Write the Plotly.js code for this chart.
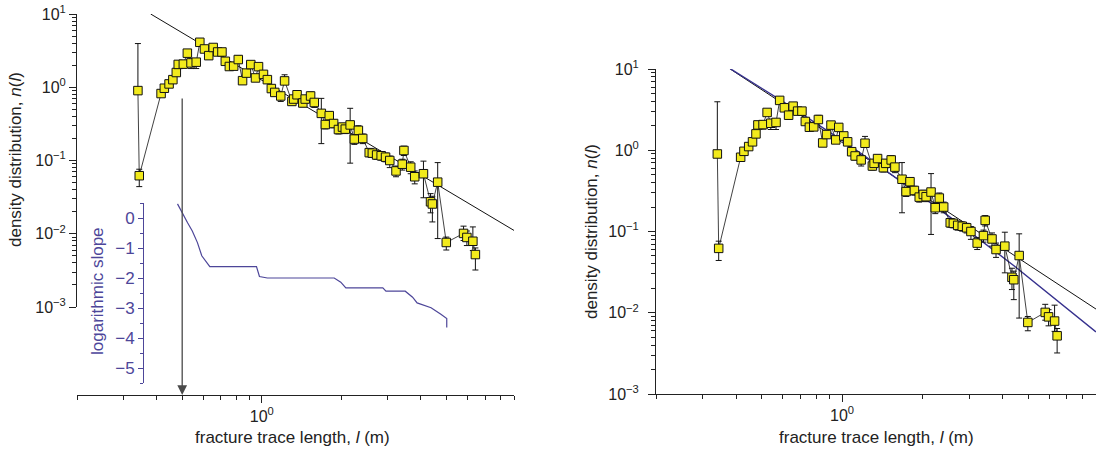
<!DOCTYPE html>
<html>
<head>
<meta charset="utf-8">
<script src="https://cdn.plot.ly/plotly-3.0.1.min.js"></script>
<style>
  html, body { margin: 0; padding: 0; background: #fff; }
  #chart { width: 1096px; height: 450px; }
</style>
</head>
<body>
<div id="chart"></div>
<script>
// Fracture trace-length density distribution n(l) with counting error bars
const traceLength = [0.340, 0.344, 0.416, 0.428, 0.446, 0.461, 0.475, 0.483, 0.505, 0.523,
  0.540, 0.565, 0.583, 0.607, 0.630, 0.655, 0.681, 0.707, 0.728, 0.754,
  0.783, 0.815, 0.846, 0.875, 0.909, 0.947, 0.972, 1.015, 1.05, 1.087,
  1.12, 1.18, 1.22, 1.30, 1.32, 1.36, 1.43, 1.46, 1.53, 1.58,
  1.68, 1.74, 1.80, 1.87, 1.95, 2.02, 2.07, 2.16, 2.24, 2.32,
  2.41, 2.55, 2.62, 2.72, 2.83, 2.94, 3.05, 3.22, 3.40, 3.45,
  3.66, 3.79, 4.09, 4.35, 4.42, 4.63, 4.99, 5.80, 5.97, 6.29, 6.43];
const density = [0.90, 0.062, 0.82, 0.97, 1.11, 1.27, 1.59, 2.05, 2.07, 2.92,
  2.15, 2.20, 4.11, 3.33, 2.70, 3.49, 3.03, 3.03, 2.26, 1.92,
  1.94, 2.39, 1.23, 1.56, 2.04, 1.34, 1.91, 1.50, 1.27, 0.96,
  0.85, 0.76, 1.22, 0.64, 0.69, 0.79, 0.61, 0.69, 0.76, 0.62,
  0.44, 0.31, 0.41, 0.32, 0.265, 0.286, 0.268, 0.306, 0.196, 0.258,
  0.20, 0.128, 0.126, 0.119, 0.116, 0.111, 0.100, 0.072, 0.089, 0.137,
  0.081, 0.060, 0.066, 0.0273, 0.0255, 0.0506, 0.0076, 0.0101, 0.0089, 0.0079, 0.0052];
const densityErrPlus = [3.05, 0.014, 0.05, 0.06, 0.07, 0.08, 0.10, 0.12, 0.13, 0.18,
  0.15, 0.15, 0.22, 0.20, 0.18, 0.22, 0.20, 0.20, 0.17, 0.15,
  0.15, 0.30, 0.12, 0.14, 0.20, 0.13, 0.20, 0.15, 0.13, 0.10,
  0.09, 0.08, 0.26, 0.07, 0.08, 0.08, 0.07, 0.08, 0.10, 0.07,
  0.265, 0.04, 0.05, 0.04, 0.035, 0.035, 0.035, 0.21, 0.03, 0.04,
  0.03, 0.015, 0.015, 0.015, 0.015, 0.015, 0.015, 0.012, 0.015, 0.02,
  0.015, 0.012, 0.032, 0.008, 0.007, 0.043, 0.0014, 0.0026, 0.002, 0.0045, 0.0012];
const densityErrMinus = [0, 0.018, 0.05, 0.06, 0.07, 0.08, 0.10, 0.12, 0.25, 0.18,
  0.35, 0.40, 0.22, 0.20, 0.30, 0.22, 0.20, 0.20, 0.17, 0.15,
  0.15, 0.20, 0.12, 0.14, 0.20, 0.13, 0.20, 0.15, 0.13, 0.10,
  0.09, 0.12, 0.12, 0.07, 0.08, 0.08, 0.07, 0.08, 0.08, 0.09,
  0.27, 0.04, 0.05, 0.04, 0.035, 0.035, 0.035, 0.214, 0.03, 0.03,
  0.03, 0.015, 0.015, 0.015, 0.015, 0.015, 0.02, 0.012, 0.015, 0.02,
  0.015, 0.012, 0.035, 0.008, 0.011, 0.042, 0.0016, 0.002, 0.002, 0.002, 0.002];

// Local logarithmic slope of the distribution (inset)
const slopeLength = [0.480, 0.501, 0.524, 0.546, 0.571, 0.593, 0.636, 0.955, 0.980, 1.05,
  1.88, 1.99, 2.08, 2.87, 2.95, 3.49, 3.72, 3.87, 4.37, 4.76, 5.01, 5.01];
const slopeValue = [0.47, 0.14, -0.16, -0.43, -0.82, -1.26, -1.62, -1.62, -1.95, -2.0,
  -2.0, -2.14, -2.33, -2.33, -2.44, -2.44, -2.64, -2.83, -2.99, -3.21, -3.35, -3.65];

// Power-law fit (straight line) and tapered fit (curved)
const powerLawLength = [0.38, 9.0];
const powerLawDensity = [10.0, 0.0111];
const taperedFitLength = [0.38, 0.6, 1.0, 1.5, 2.24, 3.0, 4.5, 6.5, 9.0];
const taperedFitDensity = [10.1, 3.97, 1.32, 0.527, 0.205, 0.1005, 0.0363, 0.0139, 0.00582];

// Lower cut-off marked by the arrow
const cutoffLength = 0.5;

// Axis tick labels
const decadeTicks = [0.001, 0.01, 0.1, 1, 10];
const decadeLabels = ['10<sup>−3</sup>', '10<sup>−2</sup>', '10<sup>−1</sup>', '10<sup>0</sup>', '10<sup>1</sup>'];
const lengthTicks = [1];
const lengthLabels = ['10<sup>0</sup>'];
const slopeTicks = [-5, -4, -3, -2, -1, 0];

// ---- layout helpers (pixel -> paper fraction) ----
const W = 1096, H = 450;
const fx = p => p / W;
const fy = p => 1 - p / H;

const FONT = 'Liberation Sans, Arial, Helvetica, sans-serif';
const INK = '#222';
const SLOPE_COLOR = '#4d4699';
const FIT_BLUE = '#36318e';

const yMinor = [];
for (let e = -3; e < 1; e++) for (let m = 2; m <= 9; m++) yMinor.push(m * Math.pow(10, e));
const xMinor = [];
for (let m = 2; m <= 9; m++) xMinor.push(m / 10);
for (let m = 2; m <= 9; m++) xMinor.push(m);

const minorTicks = vals => ({tickmode: 'array', tickvals: vals, ticks: 'outside', ticklen: 4, tickwidth: 1, tickcolor: INK, showgrid: false});

const baseAxis = {
  showline: true, linecolor: INK, linewidth: 1, mirror: false,
  showgrid: false, zeroline: false,
  ticks: 'outside', ticklen: 7, tickwidth: 1, tickcolor: INK,
  tickfont: {family: FONT, size: 16, color: INK},
  automargin: false
};

const lengthAxis = (domain, extra) => Object.assign({}, baseAxis, {
  type: 'log', range: [Math.log10(0.2), Math.log10(9)], domain,
  tickmode: 'array', tickvals: lengthTicks, ticktext: lengthLabels,
  minor: minorTicks(xMinor)
}, extra);

const densityAxis = (domain, extra) => Object.assign({}, baseAxis, {
  type: 'log', range: [-3, 1], domain,
  tickmode: 'array', tickvals: decadeTicks, ticktext: decadeLabels,
  minor: minorTicks(yMinor)
}, extra);

const dataTrace = (xa, ya) => ({
  x: traceLength, y: density, xaxis: xa, yaxis: ya,
  type: 'scatter', mode: 'lines+markers',
  line: {color: '#111', width: 0.8},
  marker: {symbol: 'square', size: 8.5, color: '#f2ea1c', line: {color: '#111', width: 1}},
  error_y: {type: 'data', symmetric: false, array: densityErrPlus, arrayminus: densityErrMinus,
            color: '#111', thickness: 1, width: 3},
  hoverinfo: 'skip'
});

const traces = [
  // left panel
  {x: powerLawLength, y: powerLawDensity, xaxis: 'x', yaxis: 'y', type: 'scatter', mode: 'lines',
   line: {color: '#111', width: 1}, hoverinfo: 'skip'},
  dataTrace('x', 'y'),
  {x: slopeLength, y: slopeValue, xaxis: 'x', yaxis: 'y2', type: 'scatter', mode: 'lines',
   line: {color: SLOPE_COLOR, width: 1.2}, hoverinfo: 'skip'},
  // right panel
  {x: powerLawLength, y: powerLawDensity, xaxis: 'x2', yaxis: 'y3', type: 'scatter', mode: 'lines',
   line: {color: '#111', width: 1}, hoverinfo: 'skip'},
  {x: taperedFitLength, y: taperedFitDensity, xaxis: 'x2', yaxis: 'y3', type: 'scatter', mode: 'lines',
   line: {color: FIT_BLUE, width: 1.4}, hoverinfo: 'skip'},
  dataTrace('x2', 'y3')
];

const titleFont = {family: FONT, size: 17, color: INK};
const xTitle = 'fracture trace length, <i>l</i> (m)';
const yTitle = 'density distribution, <i>n</i>(<i>l</i>)';

const layout = {
  width: W, height: H,
  margin: {l: 0, r: 0, t: 0, b: 0, pad: 0},
  paper_bgcolor: '#fff', plot_bgcolor: 'rgba(0,0,0,0)',
  showlegend: false,
  font: {family: FONT, size: 16, color: INK},
  xaxis: lengthAxis([fx(77), fx(514)], {anchor: 'free', position: fy(395)}),
  yaxis: densityAxis([fy(307), fy(14)], {anchor: 'x'}),
  yaxis2: Object.assign({}, baseAxis, {
    range: [-5.5, 0.5], domain: [fy(383), fy(203)], anchor: 'free', position: fx(143),
    tickmode: 'array', tickvals: slopeTicks,
    ticklen: 5, linecolor: SLOPE_COLOR, tickcolor: SLOPE_COLOR,
    tickfont: {family: FONT, size: 17, color: SLOPE_COLOR},
    minor: {dtick: 0.5, tick0: 0, ticks: 'outside', ticklen: 3, tickwidth: 1, tickcolor: SLOPE_COLOR, showgrid: false}
  }),
  xaxis2: lengthAxis([fx(656), 1], {anchor: 'y3'}),
  yaxis3: densityAxis([fy(394), fy(69)], {anchor: 'x2', ticklabelstandoff: 6}),
  annotations: [
    {xref: 'paper', yref: 'paper', x: fx(292), y: fy(437), text: xTitle, showarrow: false,
     xanchor: 'center', yanchor: 'middle', font: titleFont},
    {xref: 'paper', yref: 'paper', x: fx(876), y: fy(437), text: xTitle, showarrow: false,
     xanchor: 'center', yanchor: 'middle', font: titleFont},
    {xref: 'paper', yref: 'paper', x: fx(15), y: fy(160), text: yTitle, showarrow: false,
     textangle: -90, xanchor: 'center', yanchor: 'middle', font: titleFont},
    {xref: 'paper', yref: 'paper', x: fx(591), y: fy(232), text: yTitle, showarrow: false,
     textangle: -90, xanchor: 'center', yanchor: 'middle', font: titleFont},
    {xref: 'paper', yref: 'paper', x: fx(97), y: fy(291), text: 'logarithmic slope', showarrow: false,
     textangle: -90, xanchor: 'center', yanchor: 'middle',
     font: {family: FONT, size: 17, color: SLOPE_COLOR}},
    // arrow marking the lower cut-off length
    {xref: 'x', yref: 'paper', x: Math.log10(cutoffLength), y: fy(395),
     axref: 'pixel', ayref: 'pixel', ax: 0, ay: -(395 - 97),
     text: '', showarrow: true, arrowhead: 2, arrowsize: 1.5, arrowwidth: 1.3,
     arrowcolor: '#4a4a4a', standoff: 0}
  ]
};

Plotly.newPlot('chart', traces, layout, {staticPlot: true, displayModeBar: false});
</script>
</body>
</html>
